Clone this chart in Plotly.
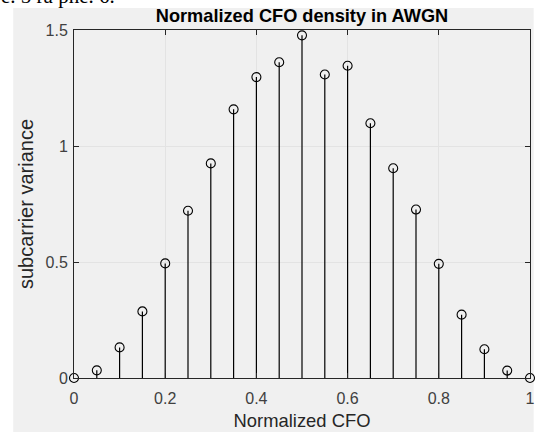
import plotly.graph_objects as go

# Data
cfo = [0.0, 0.05, 0.10, 0.15, 0.20, 0.25, 0.30, 0.35, 0.40, 0.45, 0.50,
       0.55, 0.60, 0.65, 0.70, 0.75, 0.80, 0.85, 0.90, 0.95, 1.0]
variance = [0.0, 0.033, 0.132, 0.287, 0.494, 0.721, 0.925, 1.158, 1.297, 1.361, 1.477,
            1.308, 1.346, 1.098, 0.904, 0.726, 0.492, 0.273, 0.124, 0.032, 0.0]
x_ticks = [0, 0.2, 0.4, 0.6, 0.8, 1]
x_tick_labels = ["0", "0.2", "0.4", "0.6", "0.8", "1"]
y_ticks = [0, 0.5, 1, 1.5]
y_tick_labels = ["0", "0.5", "1", "1.5"]

W, H = 536, 432
L, R, T, B = 74.3, 1.7, 30, 54.3
pw, ph = W - L - R, H - T - B

def px_to_paper_x(px):
    return (px - L) / pw

def px_to_paper_y(py):
    return (H - B - py) / ph

fig = go.Figure()

fig.add_trace(go.Scatter(
    x=cfo, y=variance, mode="markers",
    marker=dict(symbol="circle-open", size=9, color="black", line=dict(width=1.1, color="black")),
    error_y=dict(type="data", symmetric=False, array=[0] * len(variance),
                 arrayminus=variance, width=0, thickness=1.2, color="black"),
    cliponaxis=False, showlegend=False,
))

axis_font = dict(family="Liberation Sans, Arial, sans-serif", size=16, color="#404040")

fig.update_layout(
    width=W, height=H,
    margin=dict(l=L, r=R, t=T, b=B, pad=0),
    paper_bgcolor="white",
    plot_bgcolor="white",
    title=dict(text="<b>Normalized CFO density in AWGN</b>",
               font=dict(family="Liberation Sans, Arial, sans-serif", size=18.2, color="black"),
               x=px_to_paper_x(304.3), xref="paper", xanchor="center",
               y=1 - 15.5 / H, yref="container", yanchor="middle"),
    xaxis=dict(range=[0, 1], tickvals=x_ticks, ticktext=x_tick_labels,
               ticks="inside", ticklen=5, tickwidth=1, tickcolor="#262626",
               showline=True, linecolor="#262626", linewidth=1, mirror="ticks",
               showgrid=True, gridcolor="#e3e3e3", gridwidth=1, zeroline=False,
               tickfont=axis_font, ticklabelstandoff=6, ticklabeloverflow="allow",
               title=dict(text="Normalized CFO",
                          font=dict(family="Liberation Sans, Arial, sans-serif", size=18.4, color="#262626"),
                          standoff=7)),
    yaxis=dict(range=[0, 1.5], tickvals=y_ticks, ticktext=y_tick_labels,
               ticks="inside", ticklen=5, tickwidth=1, tickcolor="#262626",
               showline=True, linecolor="#262626", linewidth=1, mirror="ticks",
               showgrid=True, gridcolor="#e3e3e3", gridwidth=1, zeroline=False,
               tickfont=axis_font, ticklabelstandoff=2, ticklabeloverflow="allow",
               title=dict(text="subcarrier variance",
                          font=dict(family="Liberation Sans, Arial, sans-serif", size=20, color="#262626"),
                          standoff=6)),
    shapes=[dict(type="rect", xref="paper", yref="paper", layer="below",
                 x0=px_to_paper_x(13), x1=px_to_paper_x(W + 2),
                 y0=px_to_paper_y(H + 2), y1=px_to_paper_y(8),
                 fillcolor="#f0f0f0", line=dict(width=0))],
    annotations=[dict(text="e. 5 ra phe. 6.", xref="paper", yref="paper",
                      x=px_to_paper_x(-1), y=px_to_paper_y(10), xanchor="left", yanchor="bottom",
                      showarrow=False,
                      font=dict(family="Liberation Serif, Times New Roman, serif", size=21, color="black"))],
)

fig.write_html("out.html")
